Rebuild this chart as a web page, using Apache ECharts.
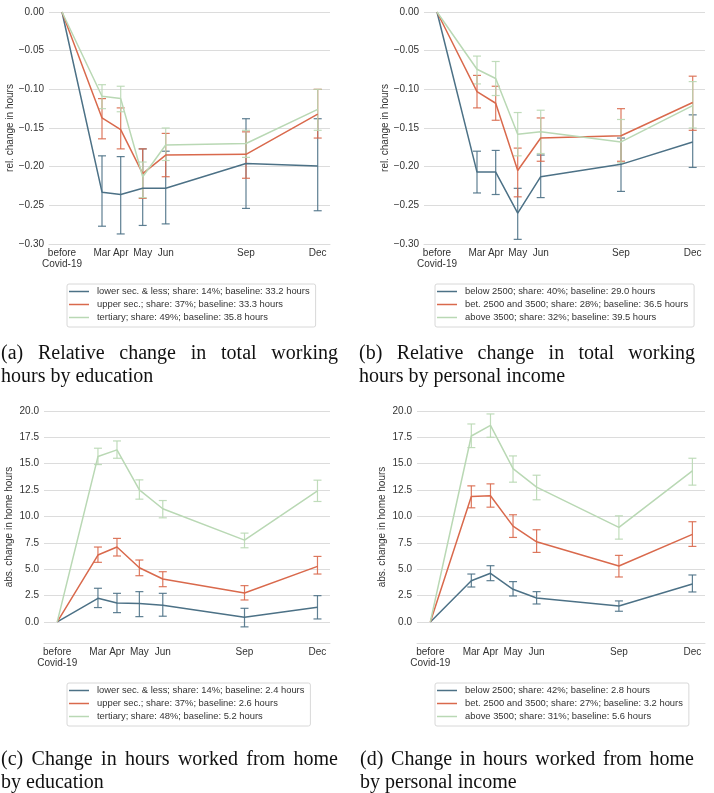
<!DOCTYPE html>
<html lang="en">

<head>
    <meta charset="UTF-8">
    <title>Working hours during Covid-19</title>
    <script src="https://cdn.jsdelivr.net/npm/echarts@6/dist/echarts.min.js"></script>
    <style>
        html,
        body {
            margin: 0;
            padding: 0;
            background: #fff;
        }

        #main {
            width: 714px;
            height: 793px;
        }
    </style>
</head>

<body>
    <div id="main"></div>
    <script>
        // survey waves, position on a common time line
        var waveLabels = ['before\nCovid-19', 'Mar', 'Apr', 'May', 'Jun', 'Sep', 'Dec'];
        var wavePos = [0, 40, 58.7, 80.7, 103.7, 184, 255.7];

        // (a) relative change, by education
        var aLowMean = [0, -0.233, -0.236, -0.228, -0.228, -0.196, -0.199];
        var aLowLo = [0, -0.277, -0.287, -0.276, -0.274, -0.254, -0.257];
        var aLowHi = [0, -0.186, -0.187, -0.177, -0.180, -0.138, -0.138];
        var aUpMean = [0, -0.137, -0.152, -0.209, -0.185, -0.184, -0.132];
        var aUpLo = [0, -0.164, -0.177, -0.241, -0.213, -0.215, -0.163];
        var aUpHi = [0, -0.112, -0.124, -0.177, -0.157, -0.155, -0.100];
        var aTerMean = [0, -0.109, -0.112, -0.213, -0.172, -0.170, -0.126];
        var aTerLo = [0, -0.125, -0.129, -0.240, -0.192, -0.188, -0.153];
        var aTerHi = [0, -0.094, -0.096, -0.194, -0.150, -0.153, -0.100];

        // (b) relative change, by personal income
        var bLowMean = [0, -0.207, -0.207, -0.260, -0.213, -0.197, -0.168];
        var bLowLo = [0, -0.234, -0.236, -0.294, -0.240, -0.232, -0.201];
        var bLowHi = [0, -0.180, -0.179, -0.228, -0.185, -0.163, -0.133];
        var bMidMean = [0, -0.103, -0.118, -0.205, -0.163, -0.160, -0.117];
        var bMidLo = [0, -0.124, -0.140, -0.239, -0.193, -0.193, -0.153];
        var bMidHi = [0, -0.082, -0.096, -0.176, -0.137, -0.125, -0.083];
        var bHighMean = [0, -0.074, -0.086, -0.158, -0.155, -0.168, -0.121];
        var bHighLo = [0, -0.093, -0.108, -0.186, -0.183, -0.195, -0.150];
        var bHighHi = [0, -0.057, -0.064, -0.130, -0.127, -0.139, -0.090];

        // (c) change in home hours, by education
        var cLowMean = [0, 2.24, 1.80, 1.74, 1.58, 0.44, 1.39];
        var cLowLo = [0, 1.36, 0.88, 0.50, 0.54, -0.47, 0.28];
        var cLowHi = [0, 3.19, 2.71, 2.87, 2.71, 1.29, 2.49];
        var cUpMean = [0, 6.34, 7.10, 5.14, 4.07, 2.74, 5.27];
        var cUpLo = [0, 5.65, 6.25, 4.38, 3.34, 2.08, 4.54];
        var cUpHi = [0, 7.10, 7.92, 5.87, 4.76, 3.44, 6.21];
        var cTerMean = [0, 15.68, 16.31, 12.52, 10.73, 7.76, 12.43];
        var cTerLo = [0, 14.92, 15.52, 11.64, 9.87, 7.03, 11.42];
        var cTerHi = [0, 16.47, 17.16, 13.47, 11.51, 8.42, 13.44];

        // (d) change in home hours, by personal income
        var dLowMean = [0, 3.91, 4.61, 3.09, 2.27, 1.51, 3.60];
        var dLowLo = [0, 3.31, 3.91, 2.46, 1.70, 1.01, 2.84];
        var dLowHi = [0, 4.54, 5.33, 3.82, 2.87, 1.99, 4.45];
        var dMidMean = [0, 11.89, 11.96, 9.08, 7.60, 5.30, 8.30];
        var dMidLo = [0, 10.82, 10.88, 8.01, 6.59, 4.26, 7.16];
        var dMidHi = [0, 12.90, 13.09, 10.16, 8.74, 6.31, 9.50];
        var dHighMean = [0, 17.63, 18.64, 14.54, 12.78, 8.96, 14.32];
        var dHighLo = [0, 16.53, 17.51, 13.25, 11.58, 7.85, 12.97];
        var dHighHi = [0, 18.77, 19.72, 15.74, 13.91, 10.06, 15.52];

        var relTicks = [-0.30, -0.25, -0.20, -0.15, -0.10, -0.05, 0.00];
        var absTicks = [0, 2.5, 5, 7.5, 10, 12.5, 15, 17.5, 20];

        var legendA = ['lower sec. & less; share: 14%; baseline: 33.2 hours', 'upper sec.; share: 37%; baseline: 33.3 hours', 'tertiary; share: 49%; baseline: 35.8 hours'];
        var legendB = ['below 2500; share: 40%; baseline: 29.0 hours', 'bet. 2500 and 3500; share: 28%; baseline: 36.5 hours', 'above 3500; share: 32%; baseline: 39.5 hours'];
        var legendC = ['lower sec. & less; share: 14%; baseline: 2.4 hours', 'upper sec.; share: 37%; baseline: 2.6 hours', 'tertiary; share: 48%; baseline: 5.2 hours'];
        var legendD = ['below 2500; share: 42%; baseline: 2.8 hours', 'bet. 2500 and 3500; share: 27%; baseline: 3.2 hours', 'above 3500; share: 31%; baseline: 5.6 hours'];

        var colors = ['#4c7186', '#d9694c', '#b9d8b4'];
        var labelColor = '#333';
        var gridColor = '#dcdcdc';

        var panels = [
            { legend: legendA, groups: [[aLowMean, aLowLo, aLowHi], [aUpMean, aUpLo, aUpHi], [aTerMean, aTerLo, aTerHi]], grid: { left: 49, top: 12, width: 281, height: 232 }, legendPos: [67, 284], yName: 'rel. change in hours', rel: true },
            { legend: legendB, groups: [[bLowMean, bLowLo, bLowHi], [bMidMean, bMidLo, bMidHi], [bHighMean, bHighLo, bHighHi]], grid: { left: 424, top: 12, width: 281, height: 232 }, legendPos: [435, 284], yName: 'rel. change in hours', rel: true },
            { legend: legendC, groups: [[cLowMean, cLowLo, cLowHi], [cUpMean, cUpLo, cUpHi], [cTerMean, cTerLo, cTerHi]], grid: { left: 44, top: 411, width: 286, height: 232 }, legendPos: [67, 683], yName: 'abs. change in home hours', rel: false },
            { legend: legendD, groups: [[dLowMean, dLowLo, dLowHi], [dMidMean, dMidLo, dMidHi], [dHighMean, dHighLo, dHighHi]], grid: { left: 417, top: 411, width: 288, height: 232 }, legendPos: [435, 683], yName: 'abs. change in home hours', rel: false }
        ];

        var captions = [
            { x0: 1, x1: 338, y: 354, lines: ['(a) Relative change in total working', 'hours by education'] },
            { x0: 359, x1: 695, y: 354, lines: ['(b) Relative change in total working', 'hours by personal income'] },
            { x0: 1, x1: 338, y: 760, lines: ['(c) Change in hours worked from home', 'by education'] },
            { x0: 360, x1: 694, y: 760, lines: ['(d) Change in hours worked from home', 'by personal income'] }
        ];

        function minus(s) {
            return String(s).replace('-', '\u2212');
        }

        function waveName(v) {
            for (var i = 0; i < wavePos.length; i++) {
                if (Math.abs(wavePos[i] - v) < 0.5) return waveLabels[i];
            }
            return '';
        }

        // error bar with caps
        function renderErrorBar(params, api) {
            var lo = api.value(1), hi = api.value(2);
            if (lo === hi) return;
            var p1 = api.coord([api.value(0), lo]);
            var p2 = api.coord([api.value(0), hi]);
            var c = 4;
            var style = { stroke: api.visual('color'), lineWidth: 1.2, opacity: 0.9 };
            return {
                type: 'group',
                children: [
                    { type: 'line', shape: { x1: p1[0], y1: p1[1], x2: p2[0], y2: p2[1] }, style: style },
                    { type: 'line', shape: { x1: p1[0] - c, y1: p1[1], x2: p1[0] + c, y2: p1[1] }, style: style },
                    { type: 'line', shape: { x1: p2[0] - c, y1: p2[1], x2: p2[0] + c, y2: p2[1] }, style: style }
                ]
            };
        }

        var grids = [], xAxes = [], yAxes = [], legends = [], series = [];

        panels.forEach(function (p, k) {
            grids.push(p.grid);
            xAxes.push({
                type: 'value', gridIndex: k, min: -13, max: 268,
                axisLine: { show: true, onZero: false, lineStyle: { color: gridColor, width: 1 } },
                axisTick: { show: false },
                splitLine: { show: false },
                axisLabel: {
                    customValues: wavePos, formatter: waveName, color: labelColor,
                    fontSize: 10, lineHeight: 10.5, margin: 4, fontFamily: 'Liberation Sans'
                }
            });
            var ticks = p.rel ? relTicks : absTicks;
            yAxes.push({
                type: 'value', gridIndex: k,
                min: p.rel ? -0.30 : -2, max: p.rel ? 0 : 20,
                name: p.yName, nameLocation: 'middle', nameGap: p.rel ? 34 : 30,
                nameTextStyle: { color: labelColor, fontSize: 10, fontFamily: 'Liberation Sans' },
                axisLine: { show: false },
                axisTick: { show: false, customValues: ticks },
                splitLine: { show: true, lineStyle: { color: gridColor, width: 1 } },
                axisLabel: {
                    customValues: ticks, color: labelColor, fontSize: 10, margin: 5,
                    fontFamily: 'Liberation Sans',
                    formatter: function (v) { return minus(p.rel ? v.toFixed(2) : v.toFixed(1)); }
                }
            });
            legends.push({
                data: p.legend, orient: 'vertical', left: p.legendPos[0], top: p.legendPos[1],
                icon: 'rect', itemWidth: 20, itemHeight: 1.5, itemGap: 2,
                padding: [2, 6, 4, 2], borderColor: '#d8d8d8', borderWidth: 1, borderRadius: 2,
                selectedMode: false,
                textStyle: { color: labelColor, fontSize: 9.4, lineHeight: 11, padding: [0, 0, 0, 3], fontFamily: 'Liberation Sans' }
            });
            p.groups.forEach(function (g, j) {
                var mean = g[0], lo = g[1], hi = g[2];
                series.push({
                    name: p.legend[j], type: 'line', xAxisIndex: k, yAxisIndex: k,
                    data: wavePos.map(function (x, i) { return [x, mean[i]]; }),
                    symbol: 'none', color: colors[j],
                    lineStyle: { width: 1.5, color: colors[j] }
                });
                series.push({
                    name: p.legend[j] + ' (CI)', type: 'custom', xAxisIndex: k, yAxisIndex: k,
                    renderItem: renderErrorBar, color: colors[j],
                    itemStyle: { color: colors[j] },
                    encode: { x: 0, y: [1, 2] },
                    data: wavePos.map(function (x, i) { return [x, lo[i], hi[i]]; })
                });
            });
        });

        // sub-figure captions, first line justified like LaTeX
        var capFont = '20px "Liberation Serif"';
        var ctx = document.createElement('canvas').getContext('2d');
        ctx.font = capFont;
        var graphics = [];
        captions.forEach(function (c) {
            var words = c.lines[0].split(' ');
            var widths = words.map(function (w) { return ctx.measureText(w).width; });
            var total = widths.reduce(function (a, b) { return a + b; }, 0);
            var gap = (c.x1 - c.x0 - total) / (words.length - 1);
            var x = c.x0;
            words.forEach(function (w, i) {
                graphics.push({
                    type: 'text', x: x, y: c.y,
                    style: { text: w, font: capFont, fill: '#111', verticalAlign: 'middle' }
                });
                x += widths[i] + gap;
            });
            graphics.push({
                type: 'text', x: c.x0, y: c.y + 23,
                style: { text: c.lines[1], font: capFont, fill: '#111', verticalAlign: 'middle' }
            });
        });

        var myChart = echarts.init(document.getElementById('main'));
        myChart.setOption({
            animation: false,
            backgroundColor: '#fff',
            grid: grids,
            xAxis: xAxes,
            yAxis: yAxes,
            legend: legends,
            series: series,
            graphic: graphics
        });
    </script>
</body>

</html>
